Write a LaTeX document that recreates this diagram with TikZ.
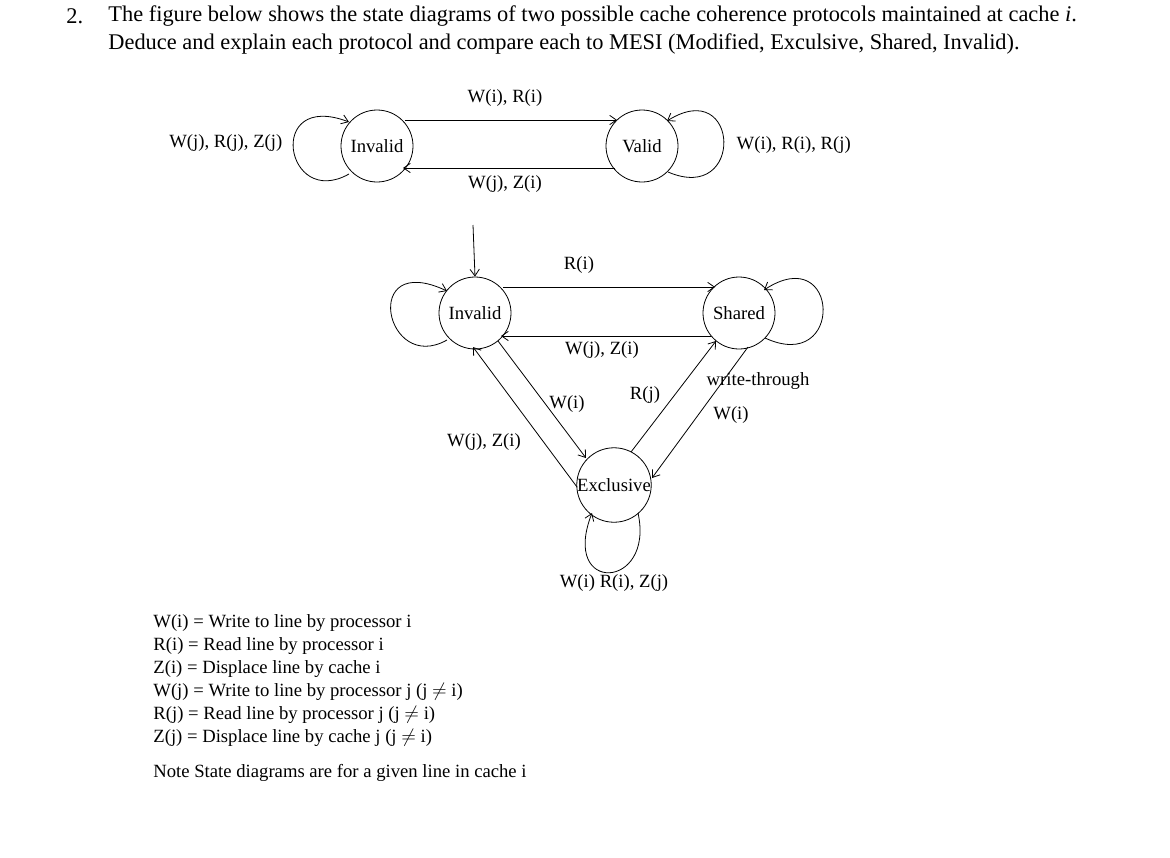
\documentclass[tikz,border=0pt]{standalone}
\usepackage{fontspec}
\setmainfont{Liberation Serif}
\usepackage{amssymb}
\usetikzlibrary{arrows.meta}
\begin{document}
\begin{tikzpicture}[x=0.75pt,y=-0.75pt,
  st/.style={circle,draw,minimum size=54pt,inner sep=0pt,font=\fontsize{14}{16}\selectfont},
  lbl/.style={font=\fontsize{14}{16}\selectfont,inner sep=1pt},
  leg/.style={font=\fontsize{14}{16}\selectfont,anchor=west,inner sep=0pt},
  hd/.style={font=\fontsize{16.8}{19}\selectfont,anchor=west,inner sep=0pt},
  arr/.style={-{Straight Barb[length=5pt,width=7pt]}},
  every path/.style={line width=0.6pt}]
\useasboundingbox (0,0) rectangle (1170,857);
\node[hd] (h0) at (66,16) {2.};
\node[hd] (h1) at (108,16) {The figure below shows the state diagrams of two possible cache coherence protocols maintained at cache \textit{i}.};
\node[hd] (h2) at (108,44) {Deduce and explain each protocol and compare each to MESI (Modified, Exculsive, Shared, Invalid).};
% top
\node[st] (ti) at (377,146) {Invalid};
\node[st] (tv) at (642,146) {Valid};
\coordinate (a1) at (405,120); \coordinate (a2) at (617,120);
\coordinate (b1) at (615,168); \coordinate (b2) at (403,168);
\draw[arr] (a1) -- (a2);
\draw[arr] (b1) -- (b2);
\coordinate (tl1) at (349,174); \coordinate (tl2) at (349,122);
\draw[arr] (tl1) .. controls (285,210) and (265,90) .. (tl2);
\coordinate (tr1) at (668,172); \coordinate (tr2) at (667,121);
\draw[arr] (tr1) .. controls (745,205) and (740,75) .. (tr2);
\node[lbl] (l1) at (505,98) {W(i), R(i)};
\node[lbl] (l2) at (505,184) {W(j), Z(i)};
\node[lbl,anchor=east] (l3) at (284,143) {W(j), R(j), Z(j)};
\node[lbl,anchor=west] (l4) at (735,145) {W(i), R(i), R(j)};
% middle
\node[st] (mi) at (475,313) {Invalid};
\node[st] (ms) at (739,313) {Shared};
\node[st] (me) at (614,485) {Exclusive};
\coordinate (entry) at (473,225);
\draw[arr] (entry) -- (mi.north);
\coordinate (c1) at (503,287); \coordinate (c2) at (715,287);
\coordinate (d1) at (711,336); \coordinate (d2) at (501,336);
\draw[arr] (c1) -- (c2);
\draw[arr] (d1) -- (d2);
\coordinate (ml1) at (447,340); \coordinate (ml2) at (447,291);
\draw[arr] (ml1) .. controls (385,375) and (360,250) .. (ml2);
\coordinate (mr1) at (765,338); \coordinate (mr2) at (764,290);
\draw[arr] (mr1) .. controls (845,375) and (840,240) .. (mr2);
\coordinate (e1) at (498,341); \coordinate (e2) at (586,458);
\draw[arr] (e1) -- (e2);
\coordinate (f1) at (577,487); \coordinate (f2) at (473,347);
\draw[arr] (f1) -- (f2);
\coordinate (g1) at (631,452); \coordinate (g2) at (716,341);
\draw[arr] (g1) -- (g2);
\coordinate (k1) at (748,347); \coordinate (k2) at (652,478);
\draw[arr] (k1) -- (k2);
\coordinate (el1) at (638,513); \coordinate (el2) at (592,513);
\draw[arr] (el1) .. controls (655,590) and (560,595) .. (el2);
\node[lbl] (m1) at (579,265) {R(i)};
\node[lbl] (m2) at (602,350) {W(j), Z(i)};
\node[lbl] (m3) at (567,404) {W(i)};
\node[lbl] (m4) at (484,442) {W(j), Z(i)};
\node[lbl] (m5) at (645,395) {R(j)};
\node[lbl,anchor=west] (m6) at (705,381) {write-through};
\node[lbl] (m7) at (731,415) {W(i)};
\node[lbl] (m8) at (614,583) {W(i) R(i), Z(j)};
\node[leg] (g01) at (153,623) {W(i) = Write to line by processor i};
\node[leg] (g02) at (153,646) {R(i) = Read line by processor i};
\node[leg] (g03) at (153,669) {Z(i) = Displace line by cache i};
\node[leg] (g04) at (153,692) {W(j) = Write to line by processor j (j $\neq$ i)};
\node[leg] (g05) at (153,715) {R(j) = Read line by processor j (j $\neq$ i)};
\node[leg] (g06) at (153,738) {Z(j) = Displace line by cache j (j $\neq$ i)};
\node[leg] (g07) at (153,773) {Note State diagrams are for a given line in cache i};
\end{tikzpicture}
\end{document}
